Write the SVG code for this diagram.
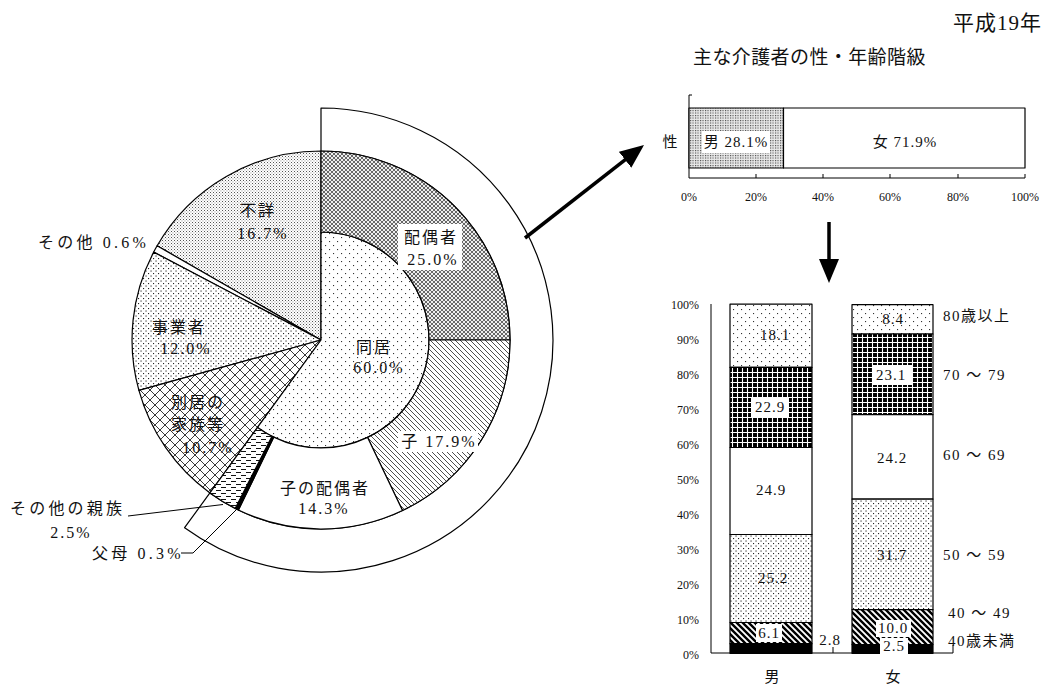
<svg xmlns="http://www.w3.org/2000/svg" width="1052" height="686" viewBox="0 0 1052 686">
<style>
text{font-family:"Liberation Serif","Noto Sans CJK JP",serif;fill:#111}
.lb{font-size:16px;letter-spacing:2px;text-anchor:middle;dominant-baseline:central}
.ls{font-size:16px;letter-spacing:3.2px;dominant-baseline:central}
.ax{font-size:12px;dominant-baseline:central}
.rl{font-size:15px;letter-spacing:1.5px;dominant-baseline:central}
.bv{font-size:15px;letter-spacing:1px;text-anchor:middle;dominant-baseline:central}
.o{stroke:#000;stroke-width:1.2;stroke-linejoin:round}
.ln{fill:none;stroke:#000;stroke-width:1}
.ar{fill:none;stroke:#000;stroke-width:3.5}
.wb{fill:#fff}
</style>
<defs>
<pattern id="pDotS" width="8" height="8" patternUnits="userSpaceOnUse"><rect width="8" height="8" fill="#fff"/><rect x="1" y="1" width="1.1" height="1.1" fill="#333"/><rect x="5" y="5" width="1.1" height="1.1" fill="#333"/></pattern>
<pattern id="pDotM" width="5" height="5" patternUnits="userSpaceOnUse"><rect width="5" height="5" fill="#fff"/><rect x="0.5" y="0.5" width="1.1" height="1.1" fill="#222"/><rect x="3" y="3" width="1.1" height="1.1" fill="#222"/></pattern>
<pattern id="pDotF" width="3" height="3" patternUnits="userSpaceOnUse"><rect width="3" height="3" fill="#fff"/><rect x="0" y="0" width="1" height="1" fill="#555"/><rect x="1.5" y="1.5" width="0.9" height="0.9" fill="#777"/></pattern>
<pattern id="pDotG" width="2.5" height="2.5" patternUnits="userSpaceOnUse"><rect width="2.5" height="2.5" fill="#e8e8e8"/><rect x="0" y="0" width="1.1" height="1.1" fill="#444"/></pattern>
<pattern id="pCross" width="4" height="4" patternUnits="userSpaceOnUse"><rect width="4" height="4" fill="#eee"/><path d="M0,0L4,4M4,0L0,4" stroke="#444" stroke-width="0.8"/></pattern>
<pattern id="pDiag" width="5" height="5" patternUnits="userSpaceOnUse"><rect width="5" height="5" fill="#fff"/><path d="M-1,-1L6,6M-1,4L1,6M4,-1L6,1" stroke="#222" stroke-width="0.8"/></pattern>
<pattern id="pDiam" width="10" height="10" patternUnits="userSpaceOnUse"><rect width="10" height="10" fill="#fff"/><path d="M0,0L10,10M10,0L0,10" stroke="#222" stroke-width="0.9"/></pattern>
<pattern id="pDash" width="10" height="6" patternUnits="userSpaceOnUse"><rect width="10" height="6" fill="#fff"/><path d="M1,1.5H6M6,4.5H11M-4,4.5H1" stroke="#111" stroke-width="1"/></pattern>
<pattern id="pThick" width="6" height="6" patternUnits="userSpaceOnUse"><rect width="6" height="6" fill="#fff"/><path d="M-1,-1L7,7M-1,5L1,7M5,-1L7,1" stroke="#000" stroke-width="2.4"/></pattern>
<pattern id="pGrid" width="5" height="5" patternUnits="userSpaceOnUse"><rect width="5" height="5" fill="#000"/><path d="M0,2.5H5M2.5,0V5" stroke="#fff" stroke-width="1.1"/></pattern>
<marker id="arr" markerUnits="userSpaceOnUse" markerWidth="26" markerHeight="22" refX="10" refY="11" orient="auto"><path d="M0,1L24,11L0,21Z" fill="#000"/></marker>
</defs>
<rect width="1052" height="686" fill="#fff"/>

<g id="titles">
<text x="1042" y="23" style="font-size:21px;letter-spacing:1px;text-anchor:end;dominant-baseline:central">平成19年</text>
<text x="693" y="57" style="font-size:19px;letter-spacing:0.4px;dominant-baseline:central">主な介護者の性・年齢階級</text>
</g>

<g id="pie">
<path id="band" class="o" fill="#fff" d="M321,151L321,108A232,232 0 1 1 184.6,527.7L209.9,492.9A189,189 0 1 0 321,151Z"/>
<path id="fusho" class="o" fill="url(#pDotF)" d="M321,340L157.1,245.8A189,189 0 0 1 321,151Z"/>
<path id="sonota" class="o" fill="#fff" d="M321,340L153.7,252.1A189,189 0 0 1 157.1,245.8Z"/>
<path id="jigyo" class="o" fill="url(#pDotM)" d="M321,340L138.9,390.4A189,189 0 0 1 153.7,252.1Z"/>
<path id="bekkyo" class="o" fill="url(#pDiam)" d="M321,340L209.9,492.9A189,189 0 0 1 138.9,390.4Z"/>
<path id="doukyo" class="o" fill="url(#pDotS)" d="M321,340L321,232A108,108 0 1 1 257.5,427.4Z"/>
<path id="haigu" class="o" fill="url(#pCross)" d="M321,151A189,189 0 0 1 510,340L429,340A108,108 0 0 0 321,232Z"/>
<path id="ko" class="o" fill="url(#pDiag)" d="M510,340A189,189 0 0 1 402.5,510.5L367.6,437.4A108,108 0 0 0 429,340Z"/>
<path id="kohaigu" class="o" fill="#fff" d="M402.5,510.5A189,189 0 0 1 238.4,510L273.8,437.1A108,108 0 0 0 367.6,437.4Z"/>
<path id="fubo" class="o" fill="#000" d="M238.4,510A189,189 0 0 1 235.2,508.4L272,436.2A108,108 0 0 0 273.8,437.1Z"/>
<path id="shinzoku" class="o" fill="url(#pDash)" d="M235.2,508.4A189,189 0 0 1 209.9,492.9L257.5,427.4A108,108 0 0 0 272,436.2Z"/>
<rect class="wb" x="398" y="224" width="64" height="46"/>
<rect class="wb" x="398" y="431" width="80" height="21"/>
<text class="lb" x="258" y="210">不詳</text>
<text class="lb" x="263" y="233">16.7%</text>
<text class="lb" x="431" y="237">配偶者</text>
<text class="lb" x="433" y="259">25.0%</text>
<text class="lb" x="374" y="347">同居</text>
<text class="lb" x="379" y="367">60.0%</text>
<text class="lb" x="439" y="441">子 17.9%</text>
<text class="lb" x="325" y="488">子の配偶者</text>
<text class="lb" x="324" y="508">14.3%</text>
<text class="lb" x="179" y="327">事業者</text>
<text class="lb" x="186" y="348">12.0%</text>
<text class="lb" x="198" y="402">別居の</text>
<text class="lb" x="198" y="424">家族等</text>
<text class="lb" x="208" y="447">10.7%</text>
<text class="ls" x="38" y="242">その他 0.6%</text>
<text class="ls" x="10" y="508">その他の親族</text>
<text class="lb" x="71" y="532">2.5%</text>
<text class="ls" x="92" y="553">父母 0.3%</text>
</g>

<g id="sex-bar">
<path class="ln" d="M692,95H689V178H1025"/>
<path class="ln" d="M756,178V174M823,178V174M890,178V174M958,178V174M1025,178V174"/>
<rect class="o" x="689" y="108" width="94.5" height="60" fill="url(#pDotG)"/>
<rect class="o" x="783.5" y="108" width="241.5" height="60" fill="#fff"/>
<rect class="wb" x="702" y="131" width="68" height="22"/>
<text x="670" y="142" style="font-size:15px;text-anchor:middle;dominant-baseline:central">性</text>
<text class="bv" x="736" y="142">男 28.1%</text>
<text class="bv" x="905" y="142">女 71.9%</text>
<text class="ax" x="689" y="197" text-anchor="middle">0%</text>
<text class="ax" x="756" y="197" text-anchor="middle">20%</text>
<text class="ax" x="823" y="197" text-anchor="middle">40%</text>
<text class="ax" x="890" y="197" text-anchor="middle">60%</text>
<text class="ax" x="958" y="197" text-anchor="middle">80%</text>
<text class="ax" x="1025" y="197" text-anchor="middle">100%</text>
</g>

<g id="age-bars">
<path class="ln" d="M711,304V653H953M833,653V647M953,653V645"/>
<g class="ax" text-anchor="end">
<text x="699" y="305">100%</text><text x="699" y="340">90%</text><text x="699" y="375">80%</text><text x="699" y="410">70%</text><text x="699" y="445">60%</text><text x="699" y="480">50%</text><text x="699" y="515">40%</text><text x="699" y="550">30%</text><text x="699" y="585">20%</text><text x="699" y="620">10%</text><text x="699" y="655">0%</text>
</g>
<g id="male-bar">
<rect class="o" x="730" y="304.2" width="82" height="63.2" fill="url(#pDotS)"/>
<rect class="o" x="730" y="367.4" width="82" height="80.1" fill="url(#pGrid)"/>
<rect class="o" x="730" y="447.5" width="82" height="87" fill="#fff"/>
<rect class="o" x="730" y="534.5" width="82" height="88" fill="url(#pDotM)"/>
<rect class="o" x="730" y="622.5" width="82" height="21.2" fill="url(#pThick)"/>
<rect class="o" x="730" y="643.7" width="82" height="9.6" fill="#000"/>
<rect class="wb" x="751" y="397" width="38" height="21"/>
<rect class="wb" x="756" y="624" width="26" height="18"/>
<text class="bv" x="775" y="335">18.1</text>
<text class="bv" x="770" y="407">22.9</text>
<text class="bv" x="771" y="490">24.9</text>
<text class="bv" x="773" y="578">25.2</text>
<text class="bv" x="769" y="633">6.1</text>
<text class="bv" x="830" y="640">2.8</text>
</g>
<g id="female-bar">
<rect class="o" x="852" y="304.7" width="81" height="29.3" fill="url(#pDotS)"/>
<rect class="o" x="852" y="334" width="81" height="80.6" fill="url(#pGrid)"/>
<rect class="o" x="852" y="414.6" width="81" height="84.5" fill="#fff"/>
<rect class="o" x="852" y="499.1" width="81" height="110.6" fill="url(#pDotM)"/>
<rect class="o" x="852" y="609.7" width="81" height="34.9" fill="url(#pThick)"/>
<rect class="o" x="852" y="644.6" width="81" height="8.7" fill="#000"/>
<rect class="wb" x="872" y="365" width="40" height="20"/>
<rect class="wb" x="876" y="620" width="35" height="17"/>
<rect class="wb" x="880" y="638" width="28" height="16"/>
<text class="bv" x="893" y="319">8.4</text>
<text class="bv" x="891" y="375">23.1</text>
<text class="bv" x="892" y="458">24.2</text>
<text class="bv" x="892" y="555">31.7</text>
<text class="bv" x="893" y="628">10.0</text>
<text class="bv" x="894" y="646">2.5</text>
</g>
<g class="rl">
<text x="943" y="316">80歳以上</text>
<text x="943" y="375">70 ～ 79</text>
<text x="943" y="455">60 ～ 69</text>
<text x="943" y="555">50 ～ 59</text>
<text x="948" y="613">40 ～ 49</text>
<text x="948" y="641">40歳未満</text>
</g>
<text x="772" y="677" style="font-size:15px;text-anchor:middle;dominant-baseline:central">男</text>
<text x="893" y="677" style="font-size:15px;text-anchor:middle;dominant-baseline:central">女</text>
</g>

<g id="connectors">
<path class="ar" d="M525,238L633,153.6" marker-end="url(#arr)"/>
<path class="ar" d="M829,222V269" marker-end="url(#arr)"/>
<path class="ln" d="M128,516L223,504.5"/>
<path class="ln" d="M181,553H193L237,509"/>
</g>
</svg>
